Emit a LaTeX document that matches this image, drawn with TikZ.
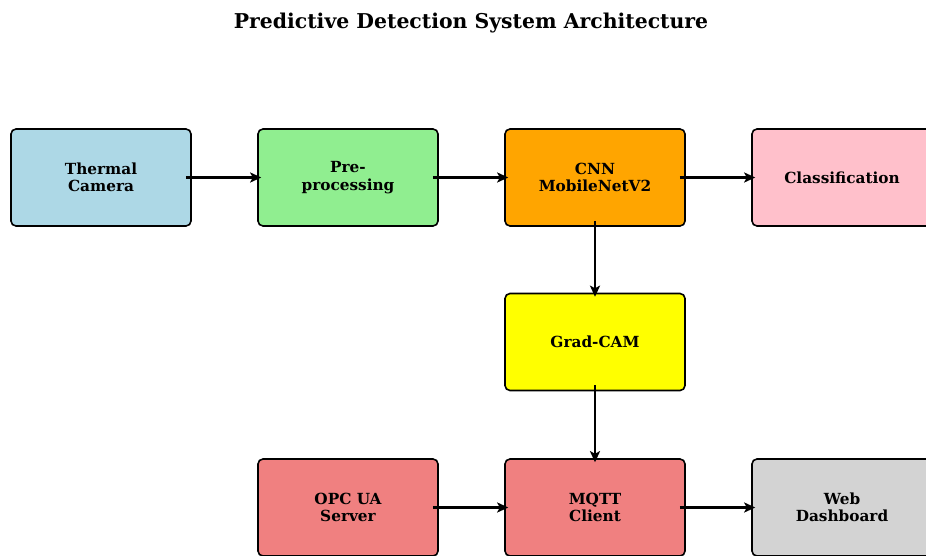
\documentclass[tikz,border=0pt]{standalone}
\usepackage{fontspec}
\setmainfont{DejaVu Serif}
\usetikzlibrary{arrows.meta}
\definecolor{cblue}{HTML}{ADD8E6}
\definecolor{cgreen}{HTML}{90EE90}
\definecolor{corange}{HTML}{FFA500}
\definecolor{cpink}{HTML}{FFC0CB}
\definecolor{cyellow}{HTML}{FFFF00}
\definecolor{ccoral}{HTML}{F08080}
\definecolor{cgray}{HTML}{D3D3D3}
\tikzset{
  blk/.style={draw=black, line width=1.6pt, rounded corners=5pt, minimum width=180pt, minimum height=97pt, align=center, font=\fontsize{15.3}{17.5}\selectfont\bfseries, inner sep=0pt},
  conn/.style={line width=2.3pt, -{Stealth[length=11pt,width=10pt,inset=2.5pt]}}
}
\begin{document}
\begin{tikzpicture}[x=1pt,y=-1pt]
\useasboundingbox (0,0) rectangle (926,556);
\clip (0,0) rectangle (926,556);
\node[font=\fontsize{20.4}{24}\selectfont\bfseries] (title) at (471,23) {Predictive Detection System Architecture};
\node[blk, fill=cblue] (cam) at (101,177.5) {Thermal\\Camera};
\node[blk, fill=cgreen] (pre) at (348,177.5) {Pre-\\processing};
\node[blk, fill=corange] (cnn) at (595,177.5) {CNN\\MobileNetV2};
\node[blk, fill=cpink] (cls) at (842,177.5) {Classification};
\node[blk, fill=cyellow] (gc) at (595,342) {Grad-CAM};
\node[blk, fill=ccoral] (opc) at (348,507.5) {OPC UA\\Server};
\node[blk, fill=ccoral] (mqtt) at (595,507.5) {MQTT\\Client};
\node[blk, fill=cgray] (web) at (842,507.5) {Web\\Dashboard};
\draw[conn] ([xshift=-6pt]cam.east) -- ([xshift=4pt]pre.west);
\draw[conn] ([xshift=-6pt]pre.east) -- ([xshift=4pt]cnn.west);
\draw[conn] ([xshift=-6pt]cnn.east) -- ([xshift=4pt]cls.west);
\draw[conn] ([yshift=6pt]cnn.south) -- ([yshift=-4pt]gc.north);
\draw[conn] ([yshift=6pt]gc.south) -- ([yshift=-4pt]mqtt.north);
\draw[conn] ([xshift=-6pt]opc.east) -- ([xshift=4pt]mqtt.west);
\draw[conn] ([xshift=-6pt]mqtt.east) -- ([xshift=4pt]web.west);
\end{tikzpicture}
\end{document}
